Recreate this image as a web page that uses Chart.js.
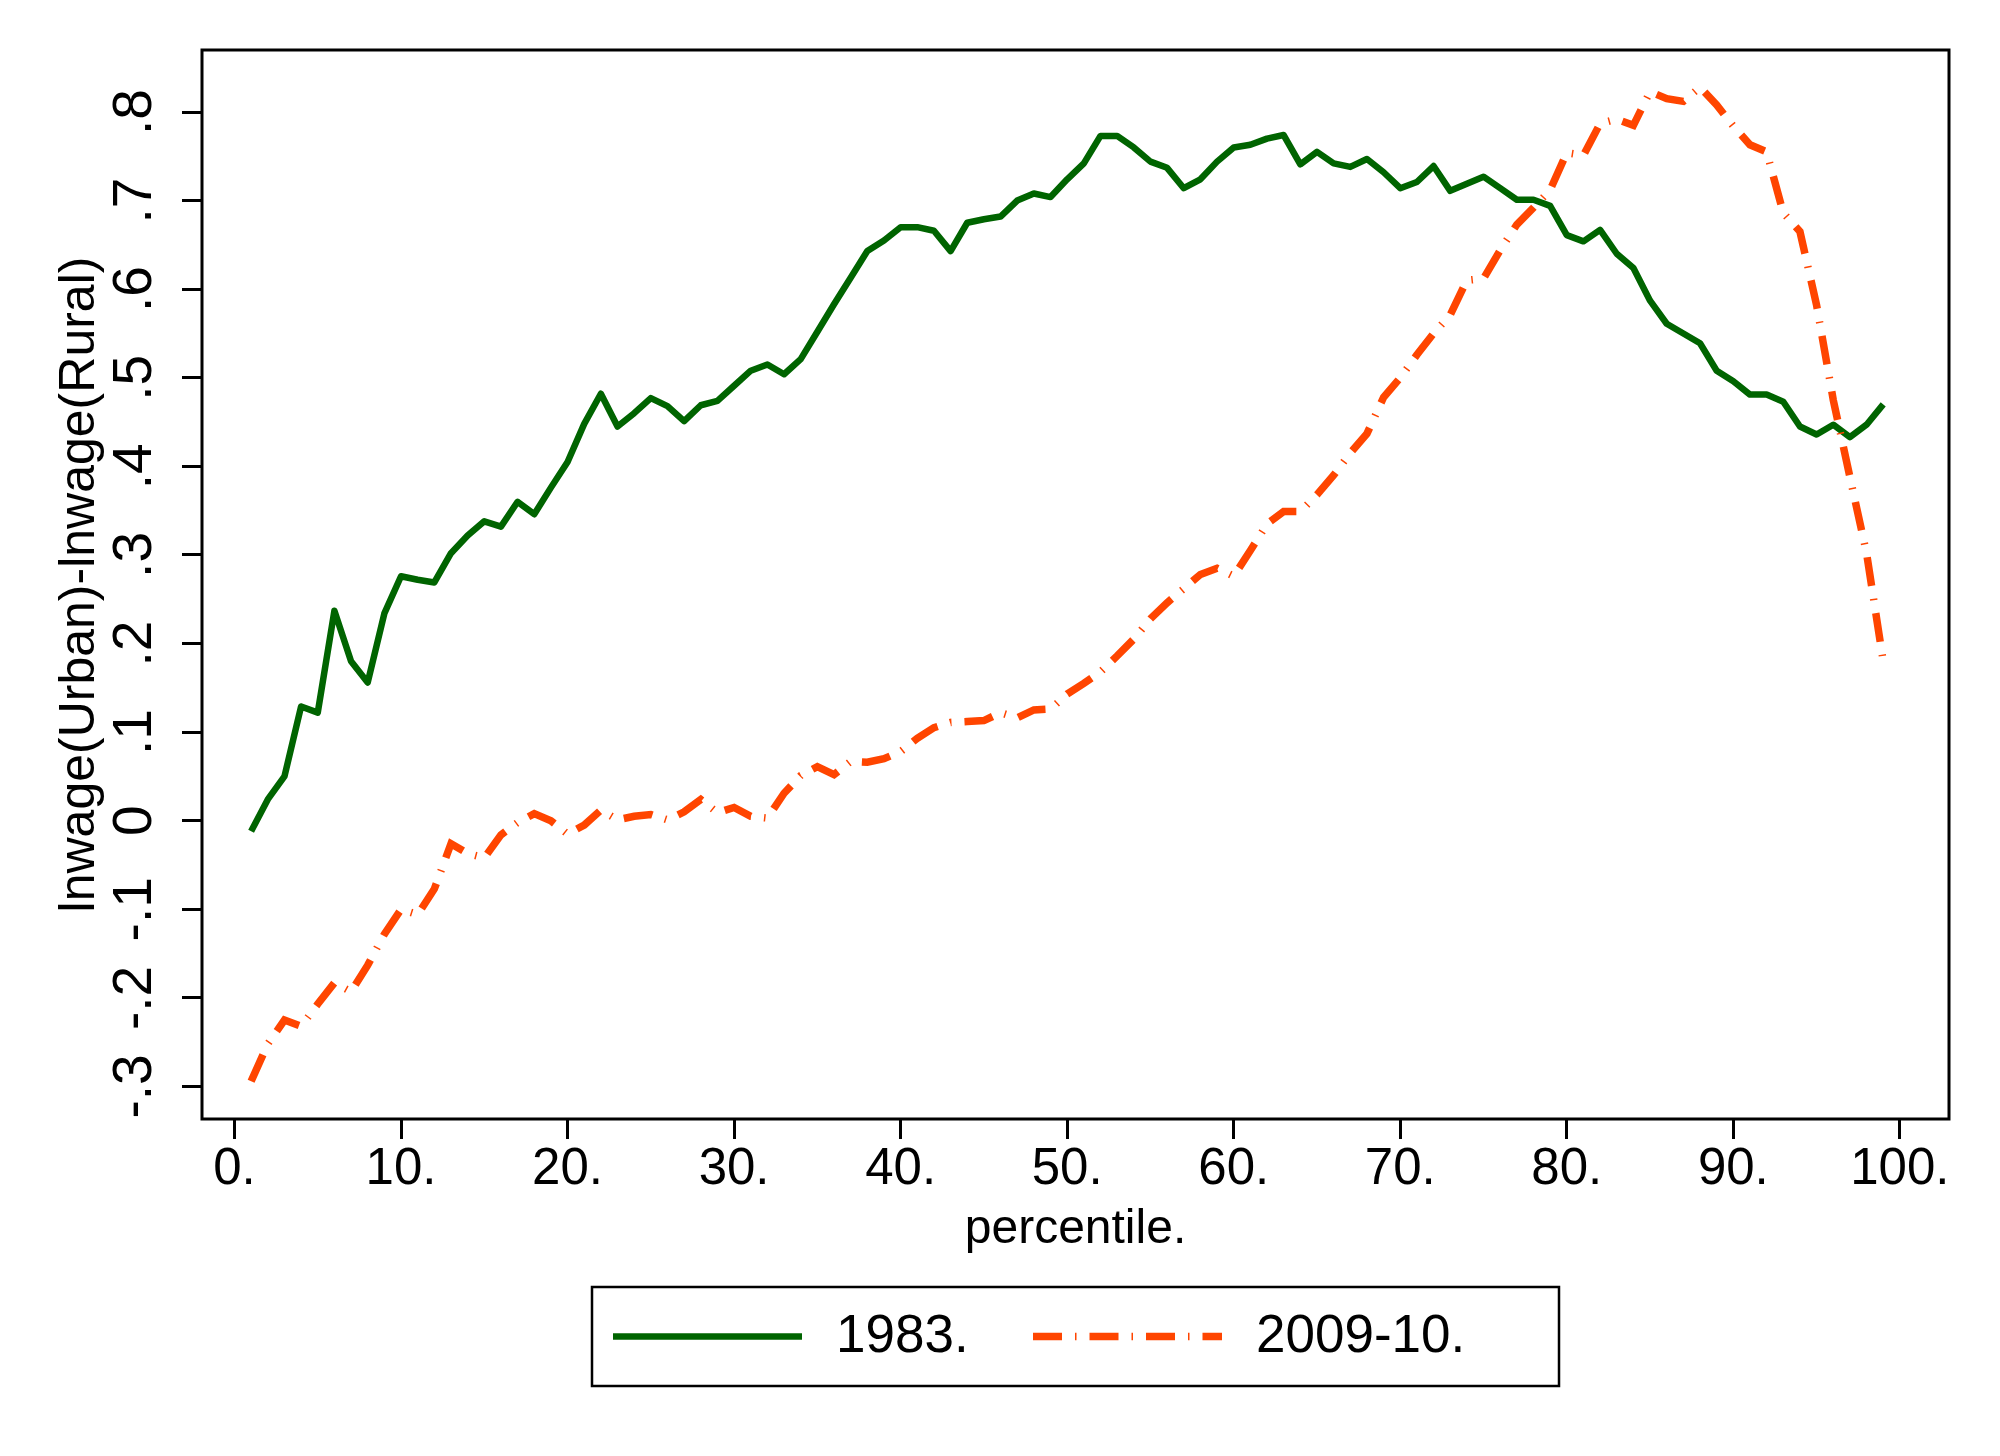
<!DOCTYPE html>
<html>
<head>
<meta charset="utf-8">
<title>lnwage(Urban)-lnwage(Rural) by percentile</title>
<script src="https://cdn.jsdelivr.net/npm/chart.js@4.4.1/dist/chart.umd.min.js"></script>
<style>
  html, body { margin: 0; padding: 0; background: #fff; }
  canvas { display: block; }
</style>
</head>
<body>
<canvas id="gapChart" width="2000" height="1456"></canvas>
<script>
// percentiles of the wage distribution
const percentiles = [
   1,  2,  3,  4,  5,  6,  7,  8,  9, 10, 11, 12, 13, 14, 15, 16, 17, 18, 19, 20,
  21, 22, 23, 24, 25, 26, 27, 28, 29, 30, 31, 32, 33, 34, 35, 36, 37, 38, 39, 40,
  41, 42, 43, 44, 45, 46, 47, 48, 49, 50, 51, 52, 53, 54, 55, 56, 57, 58, 59, 60,
  61, 62, 63, 64, 65, 66, 67, 68, 69, 70, 71, 72, 73, 74, 75, 76, 77, 78, 79, 80,
  81, 82, 83, 84, 85, 86, 87, 88, 89, 90, 91, 92, 93, 94, 95, 96, 97, 98, 99
];

// urban-rural log wage gap, 1983
const gap1983 = [
  -0.012, 0.024, 0.050, 0.129, 0.122, 0.237, 0.180, 0.156, 0.234, 0.276,
   0.272, 0.269, 0.302, 0.322, 0.338, 0.332, 0.360, 0.346, 0.376, 0.405,
   0.448, 0.482, 0.445, 0.460, 0.477, 0.468, 0.451, 0.469, 0.474, 0.491,
   0.508, 0.515, 0.504, 0.521, 0.552, 0.583, 0.613, 0.643, 0.655, 0.670,
   0.670, 0.666, 0.643, 0.675, 0.679, 0.682, 0.700, 0.708, 0.704, 0.724,
   0.742, 0.773, 0.773, 0.760, 0.744, 0.737, 0.714, 0.724, 0.744, 0.760,
   0.763, 0.770, 0.774, 0.741, 0.755, 0.742, 0.738, 0.747, 0.732, 0.714,
   0.721, 0.739, 0.711, 0.719, 0.727, 0.714, 0.701, 0.701, 0.694, 0.661,
   0.654, 0.667, 0.640, 0.624, 0.587, 0.561, 0.550, 0.539, 0.508, 0.496,
   0.481, 0.481, 0.473, 0.445, 0.436, 0.447, 0.433, 0.447, 0.470
];

// urban-rural log wage gap, 2009-10
const gap2009 = [
  -0.294, -0.252, -0.225, -0.232, -0.207, -0.183, -0.193, -0.163, -0.128, -0.100,
  -0.106, -0.077, -0.026, -0.037, -0.042, -0.016, -0.002,  0.008,  0.000, -0.015,
  -0.005,  0.012,  0.001,  0.005,  0.007,  0.001,  0.010,  0.024,  0.009,  0.015,
   0.005,  0.003,  0.031,  0.051,  0.061,  0.052,  0.067,  0.066,  0.070,  0.078,
   0.093,  0.105,  0.111,  0.112,  0.113,  0.122,  0.116,  0.125,  0.126,  0.143,
   0.155,  0.168,  0.186,  0.205,  0.228,  0.246,  0.262,  0.278,  0.285,  0.276,
   0.305,  0.335,  0.349,  0.349,  0.368,  0.390,  0.415,  0.437,  0.478,  0.500,
   0.526,  0.550,  0.571,  0.610,  0.612,  0.644,  0.673,  0.692,  0.712,  0.754,
   0.751,  0.787,  0.792,  0.785,  0.823,  0.815,  0.812,  0.828,  0.808,  0.784,
   0.763,  0.755,  0.686,  0.665,  0.582,  0.475,  0.388,  0.302,  0.180
];

const seriesNames = ['1983.', '2009-10.'];

const xTickValues = [0, 10, 20, 30, 40, 50, 60, 70, 80, 90, 100];
const xTickLabels = ['0.', '10.', '20.', '30.', '40.', '50.', '60.', '70.', '80.', '90.', '100.'];
const yTickValues = [-0.3, -0.2, -0.1, 0, 0.1, 0.2, 0.3, 0.4, 0.5, 0.6, 0.7, 0.8];
const yTickLabels = ['-.3', '-.2', '-.1', '0', '.1', '.2', '.3', '.4', '.5', '.6', '.7', '.8'];

const FONT = '"Liberation Sans", Arial, Helvetica, sans-serif';
Chart.defaults.font.family = FONT;
Chart.defaults.color = '#000';

function toPoints(ys) {
  return percentiles.map((p, i) => ({ x: p, y: ys[i] }));
}

// box round the plot region
const plotFrame = {
  id: 'plotFrame',
  afterDatasetsDraw(chart) {
    const { ctx, chartArea: a } = chart;
    ctx.save();
    ctx.strokeStyle = '#000';
    ctx.lineWidth = 3;
    ctx.strokeRect(a.left, a.top, a.right - a.left, a.bottom - a.top);
    ctx.restore();
  }
};

// y tick labels are turned on their side (chart.js won't rotate y labels)
const yTickText = {
  id: 'yTickText',
  afterDraw(chart) {
    const { ctx } = chart;
    const y = chart.scales.y;
    ctx.save();
    ctx.fillStyle = '#000';
    ctx.font = '55px ' + FONT;
    ctx.textAlign = 'center';
    ctx.textBaseline = 'middle';
    yTickValues.forEach((v, i) => {
      ctx.save();
      ctx.translate(y.right - 66, y.getPixelForValue(v));
      ctx.rotate(-Math.PI / 2);
      ctx.fillText(yTickLabels[i], 0, 0);
      ctx.restore();
    });
    ctx.restore();
  }
};

// legend in a box under the axis title
const legendBox = {
  id: 'legendBox',
  afterDraw(chart) {
    const { ctx, chartArea: a } = chart;
    const boxW = 967, boxH = 99, top = 1287;
    const left = (a.left + a.right) / 2 - boxW / 2;
    const midY = top + boxH / 2;
    const slots = [left + 21, left + 441];
    ctx.save();
    ctx.strokeStyle = '#000';
    ctx.lineWidth = 2.5;
    ctx.strokeRect(left, top, boxW, boxH);
    chart.data.datasets.forEach((ds, i) => {
      const x0 = slots[i];
      ctx.beginPath();
      ctx.setLineDash(ds.borderDash || []);
      ctx.lineCap = 'butt';
      ctx.strokeStyle = ds.borderColor;
      ctx.lineWidth = ds.borderWidth;
      ctx.moveTo(x0, midY);
      ctx.lineTo(x0 + 189, midY);
      ctx.stroke();
      ctx.setLineDash([]);
      ctx.fillStyle = '#000';
      ctx.font = '53px ' + FONT;
      ctx.textAlign = 'left';
      ctx.textBaseline = 'middle';
      ctx.fillText(ds.label, x0 + 223, midY + 1);
    });
    ctx.restore();
  }
};

const tickGrid = {
  drawOnChartArea: false,
  drawTicks: true,
  tickLength: 20,
  lineWidth: 3,
  color: '#000'
};

new Chart(document.getElementById('gapChart'), {
  type: 'line',
  data: {
    datasets: [
      {
        label: seriesNames[0],
        data: toPoints(gap1983),
        borderColor: '#006400',
        borderWidth: 6.5,
        borderJoinStyle: 'round',
        pointRadius: 0,
        tension: 0,
        order: 1
      },
      {
        label: seriesNames[1],
        data: toPoints(gap2009),
        borderColor: '#ff4500',
        borderWidth: 7.5,
        borderDash: [29, 13, 1.5, 13],
        borderCapStyle: 'butt',
        pointRadius: 0,
        tension: 0,
        order: 0
      }
    ]
  },
  options: {
    responsive: false,
    devicePixelRatio: 1,
    animation: false,
    events: [],
    layout: { padding: { top: 50, right: 51, bottom: 177, left: 0 } },
    plugins: {
      legend: { display: false },
      tooltip: { enabled: false }
    },
    scales: {
      x: {
        type: 'linear',
        min: -1.95,
        max: 102.95,
        afterBuildTicks: s => { s.ticks = xTickValues.map(v => ({ value: v })); },
        afterFit: s => { s.height = 160; },
        ticks: {
          autoSkip: false,
          maxRotation: 0,
          padding: 0,
          font: { size: 51, lineHeight: 1.2 },
          color: '#000',
          callback: (v, i) => xTickLabels[i]
        },
        grid: tickGrid,
        border: { display: false },
        title: {
          display: true,
          text: 'percentile.',
          color: '#000',
          font: { size: 48, lineHeight: 1 },
          padding: { top: 0, bottom: 25 }
        }
      },
      y: {
        type: 'linear',
        min: -0.3367,
        max: 0.870,
        afterBuildTicks: s => { s.ticks = yTickValues.map(v => ({ value: v })); },
        afterFit: s => { s.width = 202; },
        ticks: { display: false },
        grid: tickGrid,
        border: { display: false },
        title: {
          display: true,
          text: 'lnwage(Urban)-lnwage(Rural)',
          color: '#000',
          font: { size: 50, lineHeight: 1 },
          padding: { top: 55, bottom: 0 }
        }
      }
    }
  },
  plugins: [plotFrame, yTickText, legendBox]
});
</script>
</body>
</html>
